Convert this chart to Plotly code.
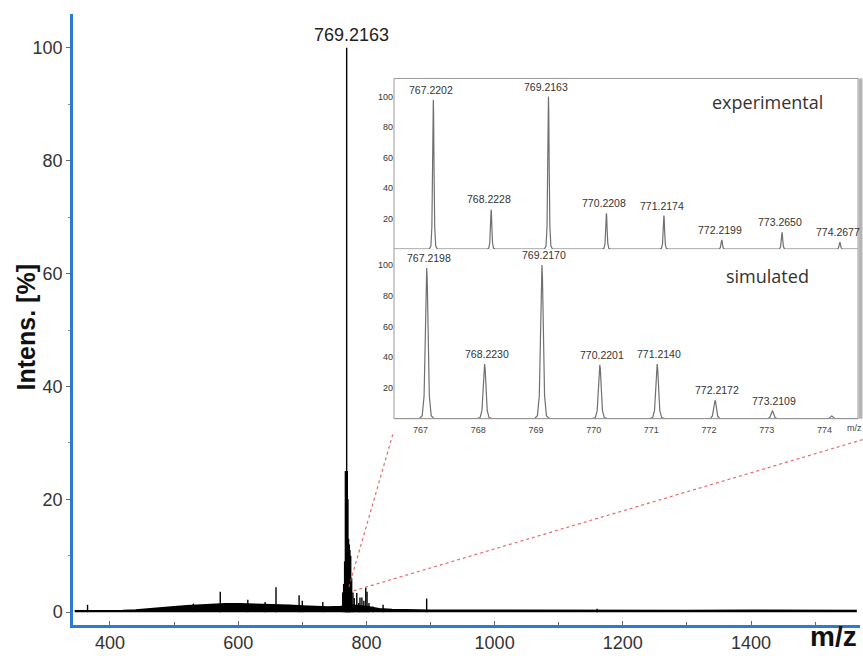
import plotly.graph_objects as go

# ---------------- data ----------------
# main spectrum: broad baseline envelope (m/z, intensity %)
env_mz = [345, 380, 420, 440, 460, 480, 500, 520, 540, 560, 580, 600, 620, 640, 660,
          680, 700, 720, 740, 760, 780, 800, 820, 840, 860, 900, 1000, 1100, 1200,
          1300, 1400, 1500, 1565]
env_int = [0.25, 0.25, 0.3, 0.4, 0.55, 0.75, 0.95, 1.15, 1.3, 1.4, 1.5, 1.5, 1.45, 1.4, 1.3,
           1.2, 1.1, 1.0, 0.9, 1.0, 1.2, 1.0, 0.6, 0.45, 0.4, 0.35, 0.35, 0.3, 0.35,
           0.3, 0.35, 0.3, 0.3]

# main spectrum: resolved peaks (m/z, intensity %)
peak_mz = [365, 530, 572, 615, 642, 659, 695, 700, 732, 763, 764.5, 766, 767.2, 768.2,
           769.2163, 770.2, 771.2, 772.2, 773.3, 774.3, 775.5, 777, 779, 781, 785, 788,
           790, 793, 796, 799, 801, 804, 810, 826, 894, 1160]
peak_int = [1.3, 1.5, 3.6, 2.2, 1.8, 4.4, 3.0, 2.0, 1.8, 3.5, 5, 9, 25, 14,
            100, 25, 20, 13, 12, 11, 10, 6, 3.5, 2.5, 3.4, 1.6,
            2.6, 2.6, 2.0, 4.3, 3.6, 1.6, 1.0, 1.3, 2.4, 0.6]
main_label = "769.2163"

# inset: experimental isotope pattern
exp_mz = [767.2202, 768.2228, 769.2163, 770.2208, 771.2174, 772.2199, 773.2650, 774.2677]
exp_int = [98, 26, 100, 23.5, 22, 6, 11, 4.5]
exp_lbl = ["767.2202", "768.2228", "769.2163", "770.2208", "771.2174", "772.2199",
           "773.2650", "774.2677"]

# inset: simulated isotope pattern
sim_mz = [767.2198, 768.2230, 769.2170, 770.2201, 771.2140, 772.2172, 773.2109, 774.24]
sim_int = [98, 35.5, 100, 35, 35.5, 12, 5, 1.8]
sim_lbl = ["767.2198", "768.2230", "769.2170", "770.2201", "771.2140", "772.2172",
           "773.2109", ""]

main_xticks = [400, 600, 800, 1000, 1200, 1400]
main_xminor = [500, 700, 900, 1100, 1300, 1500]
main_yticks = [0, 20, 40, 60, 80, 100]
main_yminor = [10, 30, 50, 70, 90]
inset_yticks = [20, 40, 60, 80, 100]
inset_xticks = [767, 768, 769, 770, 771, 772, 773, 774]

# ---------------- geometry / style ----------------
W, H = 863, 656
ML, MR, MT, MB = 73, 3, 14, 26
PW, PH = W - ML - MR, H - MT - MB


def px_x(px):
    return (px - ML) / PW


def px_y(py):
    return (H - MB - py) / PH


X_RANGE = [342.3, 1570.0]
Y_RANGE = [-2.28, 106.0]
EXP_RANGE = [766.539, 774.582]
SIM_RANGE = [766.653, 774.695]

BLUE = "#2b7bd0"
ARIAL = "Liberation Sans, Arial, sans-serif"

# peak profile template (drawing style for inset peaks)
prof_dx = [-1.0, -0.6, -0.35, -0.18, -0.07, 0, 0.07, 0.18, 0.35, 0.6, 1.0]
prof_f = [0, 0.02, 0.15, 0.55, 0.92, 1, 0.92, 0.55, 0.15, 0.02, 0]


def profile(mzs, ints, half_w, rng):
    xs, ys = [rng[0]], [0]
    for m, h in zip(mzs, ints):
        for d, f in zip(prof_dx, prof_f):
            xs.append(m + d * half_w)
            ys.append(h * f)
    xs.append(rng[1])
    ys.append(0)
    return xs, ys


fig = go.Figure()

# main spectrum envelope
fig.add_trace(go.Scatter(x=env_mz, y=env_int, mode="lines", fill="tozeroy",
                         fillcolor="black", line=dict(color="black", width=1.5),
                         hoverinfo="skip", showlegend=False))
# main spectrum sticks
sx, sy = [], []
for m, h in zip(peak_mz, peak_int):
    sx += [m, m, None]
    sy += [0, h, None]
fig.add_trace(go.Scatter(x=sx, y=sy, mode="lines", line=dict(color="black", width=1.4),
                         hoverinfo="skip", showlegend=False))

# inset experimental
ex, ey = profile(exp_mz, exp_int, 0.07, EXP_RANGE)
fig.add_trace(go.Scatter(x=ex, y=ey, xaxis="x2", yaxis="y2", mode="lines",
                         line=dict(color="#707070", width=1.2), hoverinfo="skip",
                         showlegend=False))
# inset lower-panel baseline (on tick-label axis)
fig.add_trace(go.Scatter(x=EXP_RANGE, y=[0, 0], xaxis="x3", yaxis="y3", mode="lines",
                         line=dict(color="#8a8a8a", width=1), hoverinfo="skip",
                         showlegend=False))
# inset simulated
sx2, sy2 = profile(sim_mz, sim_int, 0.13, SIM_RANGE)
fig.add_trace(go.Scatter(x=sx2, y=sy2, xaxis="x4", yaxis="y3", mode="lines",
                         line=dict(color="#707070", width=1.2), hoverinfo="skip",
                         showlegend=False))

annotations = []
# main peak label
annotations.append(dict(x=769.2163, y=max(peak_int), xref="x", yref="y", text=main_label,
                        showarrow=False, xanchor="center", yanchor="bottom", yshift=1,
                        xshift=5, font=dict(family=ARIAL, size=18, color="#222")))
for m, h, t in zip(exp_mz, exp_int, exp_lbl):
    if t:
        annotations.append(dict(x=m, y=h, xref="x2", yref="y2", text=t, showarrow=False,
                                xanchor="center", yanchor="bottom", yshift=2, xshift=-2,
                                font=dict(family=ARIAL, size=10.5, color="#333")))
for m, h, t in zip(sim_mz, sim_int, sim_lbl):
    if t:
        annotations.append(dict(x=m, y=h, xref="x4", yref="y3", text=t, showarrow=False,
                                xanchor="center", yanchor="bottom", yshift=2, xshift=2,
                                font=dict(family=ARIAL, size=10.5, color="#333")))
annotations += [
    dict(x=px_x(767), y=px_y(103), xref="paper", yref="paper", text="experimental",
         xanchor="center", yanchor="middle", showarrow=False,
         font=dict(family="Open Sans, sans-serif", size=18, color="#333")),
    dict(x=px_x(767), y=px_y(278), xref="paper", yref="paper", text="simulated",
         xanchor="center", yanchor="middle", showarrow=False,
         font=dict(family="Open Sans, sans-serif", size=18, color="#333")),
    dict(x=px_x(845), y=px_y(431), xref="paper", yref="paper", text="m/z",
         xanchor="left", yanchor="middle", showarrow=False,
         font=dict(family=ARIAL, size=9, color="#444")),
    dict(x=px_x(833), y=px_y(642), xref="paper", yref="paper", text="<b>m/z</b>",
         xanchor="center", yanchor="middle", showarrow=False,
         font=dict(family=ARIAL, size=28, color="#111")),
    dict(x=px_x(26), y=px_y(330), xref="paper", yref="paper", text="<b>Intens. [%]</b>",
         xanchor="center", yanchor="middle", textangle=-90, showarrow=False,
         font=dict(family=ARIAL, size=25, color="#111")),
]

# connector (zoom) lines from the isotope cluster to the inset
zoom_from = (780, 4.0)
zx = (zoom_from[0] - X_RANGE[0]) / (X_RANGE[1] - X_RANGE[0])
zy = (zoom_from[1] - Y_RANGE[0]) / (Y_RANGE[1] - Y_RANGE[0])
red = dict(color="rgba(225,80,80,0.85)", width=1.2, dash="dot")
shapes = [
    dict(type="line", xref="paper", yref="paper", x0=zx - 0.006, y0=zy + 0.004,
         x1=px_x(393), y1=px_y(437), line=red),
    dict(type="line", xref="paper", yref="paper", x0=zx, y0=zy - 0.002,
         x1=px_x(863), y1=px_y(443), line=red),
    dict(type="rect", xref="paper", yref="paper", x0=px_x(394), x1=px_x(858),
         y0=px_y(422), y1=px_y(79), line=dict(color="#9a9a9a", width=1)),
    dict(type="line", xref="paper", yref="paper", x0=px_x(860.5), x1=px_x(860.5),
         y0=px_y(422), y1=px_y(79), line=dict(color="#b5b5b5", width=4)),
]

inset_dom_x = [px_x(394), px_x(858)]
small_font = dict(family=ARIAL, size=9, color="#333")

fig.update_layout(
    width=W, height=H, margin=dict(l=ML, r=MR, t=MT, b=MB),
    paper_bgcolor="white", plot_bgcolor="white", showlegend=False,
    xaxis=dict(domain=[0, 1], range=X_RANGE, anchor="y", tickvals=main_xticks,
               ticks="inside", ticklen=4, tickcolor="#666", tickwidth=1,
               minor=dict(tickvals=main_xminor, ticks="inside", ticklen=3, tickcolor="#666"),
               showline=True, linecolor=BLUE, linewidth=2.5, showgrid=False, zeroline=False,
               tickfont=dict(family=ARIAL, size=18, color="#333")),
    yaxis=dict(domain=[0, 1], range=Y_RANGE, anchor="x", tickvals=main_yticks,
               ticks="outside", ticklen=4, tickcolor="#666", tickwidth=1,
               minor=dict(tickvals=main_yminor, ticks="outside", ticklen=2, tickcolor="#888"),
               showline=True, linecolor=BLUE, linewidth=2.5, showgrid=False, zeroline=False,
               tickfont=dict(family=ARIAL, size=18, color="#333")),
    xaxis2=dict(domain=inset_dom_x, range=EXP_RANGE, anchor="y2", showticklabels=False,
                ticks="", showline=True, linecolor="#5a5a5a", linewidth=1.6,
                showgrid=False, zeroline=False),
    yaxis2=dict(domain=[px_y(251), px_y(79)], range=[0, 111.9], anchor="x2",
                tickvals=inset_yticks, ticks="", showline=False, showgrid=False,
                zeroline=False, tickfont=small_font),
    xaxis3=dict(domain=inset_dom_x, range=EXP_RANGE, anchor="y3", tickvals=inset_xticks,
                ticks="", ticklabelstandoff=4, showline=False, showgrid=False,
                zeroline=False, tickfont=dict(family=ARIAL, size=9, color="#444")),
    yaxis3=dict(domain=[px_y(422), px_y(251)], range=[0, 110.3], anchor="x3",
                tickvals=inset_yticks, ticks="", showline=False, showgrid=False,
                zeroline=False, tickfont=small_font),
    xaxis4=dict(overlaying="x3", anchor="y3", range=SIM_RANGE, visible=False),
    annotations=annotations, shapes=shapes,
)

fig.write_html("out.html")
